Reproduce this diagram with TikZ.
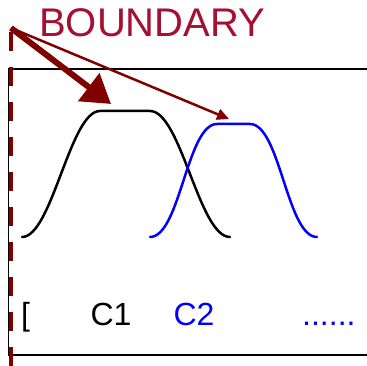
\documentclass[tikz,border=0pt]{standalone}
\usepackage{fontspec}
\setmainfont{Liberation Sans}
\usetikzlibrary{arrows.meta}
\definecolor{bdred}{RGB}{128,0,0}
\definecolor{crim}{RGB}{165,15,50}
\definecolor{cblue}{RGB}{0,0,255}
\tikzset{
  curveline/.style={line width=2.5pt, line join=round, line cap=round},
  boxline/.style={line width=1.2pt, black},
  lbl/.style={inner sep=0pt, anchor=base west, font=\fontsize{32}{38}\selectfont},
  bigarrow/.style={bdred, line width=6pt, -{Triangle[length=28pt,width=34pt]}},
  thinarrow/.style={bdred, line width=2.5pt, -{Triangle[length=12pt,width=11pt]}}
}
\begin{document}
\begin{tikzpicture}[x=1pt,y=-1pt]
\useasboundingbox (0,0) rectangle (367,366);
% box
\draw[boxline] (367,69) -- (8.5,69) -- (8.5,355) -- (367,355);
% boundary dashed line
\draw[bdred, line width=4pt, dash pattern=on 19pt off 16pt] (10.5,32) -- (10.5,366);
% curves
\draw[curveline, black] (22,237) .. controls (52,237) and (70,111) .. (100,111)
  -- (150,111) .. controls (181,111) and (199,237) .. (230,237);
\draw[curveline, cblue] (150,237) .. controls (180,237) and (187,124) .. (217,124)
  -- (250,124) .. controls (280,124) and (287,237) .. (317,237);
% arrows
\coordinate (src) at (11,28);
\coordinate (c1top) at (111,104);
\coordinate (c2top) at (229,119);
\draw[thinarrow] (src) -- (c2top);
\draw[bigarrow] (src) -- (c1top);
% texts
\node[inner sep=0pt, anchor=base west, text=crim, font=\fontsize{40}{48}\selectfont] (bnd) at (39,37) {BOUNDARY};
\node[lbl] (br) at (21,326) {[};
\node[lbl] (c1) at (90.4,326) {C1};
\node[lbl, text=cblue] (c2) at (173.4,326) {C2};
\node[lbl, text=cblue] (dots) at (302,326) {......};
\end{tikzpicture}
\end{document}
